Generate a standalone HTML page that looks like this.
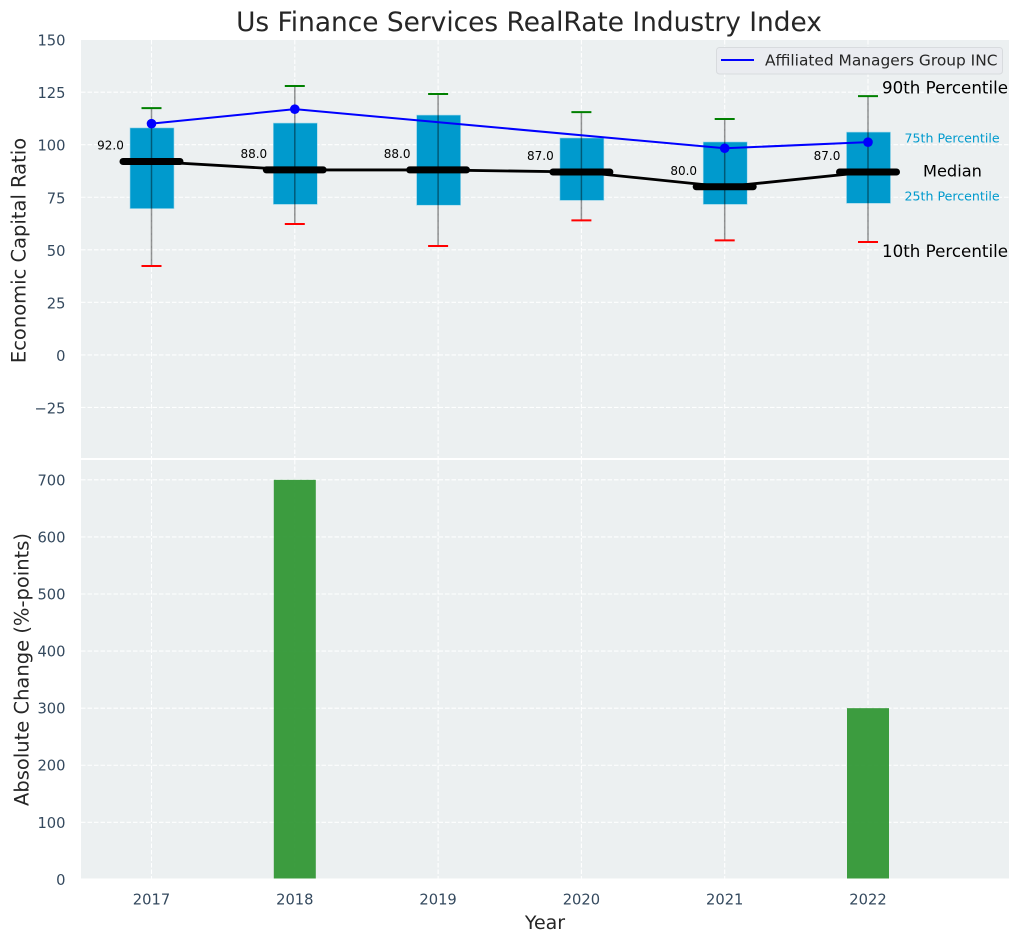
<!DOCTYPE html>
<html>
<head>
<meta charset="utf-8">
<title>Us Finance Services RealRate Industry Index</title>
<style>
html,body{margin:0;padding:0;background:#fff;}
svg{display:block;font-family:"DejaVu Sans","Liberation Sans",sans-serif;}
</style>
</head>
<body>
<svg id="chart" xmlns="http://www.w3.org/2000/svg" width="1019" height="942" viewBox="0 0 1019 942">
  <rect x="81" y="40" width="928" height="418" fill="#ecf0f1"/>
  <rect x="81" y="460" width="928" height="418.5" fill="#ecf0f1"/>
  <g id="grid"></g>
  <g id="bars"></g>
  <g id="boxes"></g>
  <g id="lines"></g>
  <g id="labels"></g>
  <text x="529" y="31" text-anchor="middle" font-size="26.4px" fill="#262626">Us Finance Services RealRate Industry Index</text>
  <text transform="translate(25.5,250.5) rotate(-90)" text-anchor="middle" font-size="19.5px" fill="#262626">Economic Capital Ratio</text>
  <text transform="translate(28.5,669.5) rotate(-90)" text-anchor="middle" font-size="19.5px" fill="#262626">Absolute Change (%-points)</text>
  <text x="545" y="929" text-anchor="middle" font-size="19px" fill="#262626">Year</text>
  <g>
    <rect x="716.5" y="47.5" width="286" height="26.5" rx="3" fill="#eaecf0" stroke="#d8dbde" stroke-width="1"/>
    <line x1="721" y1="60" x2="754" y2="60" stroke="#0000ff" stroke-width="2"/>
    <text x="765" y="65.5" font-size="15.4px" fill="#262626">Affiliated Managers Group INC</text>
  </g>
</svg>
<script>
const years = ['2017', '2018', '2019', '2020', '2021', '2022'];
const medians = [92, 88, 88, 87, 80, 87];
const medianLabels = ['92.0', '88.0', '88.0', '87.0', '80.0', '87.0'];
const q3 = [108, 110.3, 114.1, 103.2, 101.3, 106];
const q1 = [69.6, 71.6, 71.2, 73.5, 71.6, 72.1];
const p90 = [117.4, 127.9, 124.1, 115.5, 112.2, 123.1];
const p10 = [42.3, 62.3, 51.8, 64, 54.5, 53.7];
const company = [110, 116.9, null, null, 98.3, 101.2];
const changes = [0, 700, 0, 0, 0, 300];
const topTicks = [150, 125, 100, 75, 50, 25, 0, -25];
const bottomTicks = [700, 600, 500, 400, 300, 200, 100, 0];

const NS = 'http://www.w3.org/2000/svg';
const xPos = i => 151.5 + 143.3 * i;
const yTop = v => 354.9 - 2.102 * v;
const yBottom = v => 879.4 - 0.5708 * v;

function make(parent, tag, props, content) {
  const el = document.createElementNS(NS, tag);
  for (const k in props) el.setAttribute(k, props[k]);
  if (content !== undefined) el.textContent = content;
  parent.appendChild(el);
  return el;
}

const gridG = document.getElementById('grid');
const barsG = document.getElementById('bars');
const boxesG = document.getElementById('boxes');
const linesG = document.getElementById('lines');
const labelsG = document.getElementById('labels');
const gridStyle = {stroke: '#ffffff', 'stroke-width': 1.1, 'stroke-dasharray': '4.5 2', fill: 'none', opacity: 0.95};

topTicks.forEach(t => {
  const yy = yTop(t);
  if (t !== 150) {
    const g = make(gridG, 'line', Object.assign({x1: 81, x2: 1009, y1: yy, y2: yy}, gridStyle));
    
    
  }
  const l = make(labelsG, 'text', {x: 65.5, y: yy + 6, 'text-anchor': 'end', 'font-size': '14.7px', fill: '#34495e'}, String(t).replace('-', '\u2212'));
  
  
});

bottomTicks.forEach(t => {
  const yy = yBottom(t);
  if (t !== 0) {
    const g = make(gridG, 'line', Object.assign({x1: 81, x2: 1009, y1: yy, y2: yy}, gridStyle));
    
    
  }
  const l = make(labelsG, 'text', {x: 65.5, y: yy + 5.5, 'text-anchor': 'end', 'font-size': '14.7px', fill: '#34495e'}, String(t));
  
  
});

years.forEach((yr, i) => {
  const xx = xPos(i);
  const g1 = make(gridG, 'line', Object.assign({x1: xx, x2: xx, y1: 40, y2: 458}, gridStyle));
  
  
  const g2 = make(gridG, 'line', Object.assign({x1: xx, x2: xx, y1: 460, y2: 878.5}, gridStyle));
  
  
  const l = make(labelsG, 'text', {x: xx, y: 904.5, 'text-anchor': 'middle', 'font-size': '14.7px', fill: '#34495e'}, yr);
  
  

  if (changes[i] > 0) {
    const b = make(barsG, 'rect', {x: xx - 21, y: yBottom(changes[i]), width: 42, height: 878.5 - yBottom(changes[i]), fill: '#2e9632', 'fill-opacity': 0.93});
    
    
  }

  const box = make(boxesG, 'rect', {x: xx - 21.5, y: yTop(q3[i]), width: 44, height: yTop(q1[i]) - yTop(q3[i]), fill: '#009acd', stroke: '#9fd8ea', 'stroke-width': 0.6});
  
  
  const w = make(boxesG, 'line', {x1: xx, x2: xx, y1: yTop(p90[i]), y2: yTop(p10[i]), stroke: '#000', 'stroke-opacity': 0.42, 'stroke-width': 1.5});
  
  
  const hi = make(boxesG, 'line', {x1: xx - 10, x2: xx + 10, y1: yTop(p90[i]), y2: yTop(p90[i]), stroke: '#008000', 'stroke-width': 2});
  
  
  const lo = make(boxesG, 'line', {x1: xx - 10, x2: xx + 10, y1: yTop(p10[i]), y2: yTop(p10[i]), stroke: '#ff0000', 'stroke-width': 2});
  
  
});

const medianPath = make(linesG, 'polyline', {points: medians.map((v, i) => xPos(i) + ',' + yTop(v)).join(' '), fill: 'none', stroke: '#000', 'stroke-width': 2.8});



medians.forEach((v, i) => {
  const m = make(linesG, 'line', {x1: xPos(i) - 28.5, x2: xPos(i) + 28.5, y1: yTop(v), y2: yTop(v), stroke: '#000', 'stroke-width': 7, 'stroke-linecap': 'round'});
  
  
  const t = make(labelsG, 'text', {x: xPos(i) - 41, y: yTop(v) - 11.8, 'text-anchor': 'middle', 'font-size': '12px', fill: '#000'}, medianLabels[i]);
  
  
});

const companyPts = company.map((v, i) => v === null ? null : [xPos(i), yTop(v)]).filter(Boolean);
const companyLine = make(linesG, 'polyline', {points: companyPts.map(p => p.join(',')).join(' '), fill: 'none', stroke: '#0000ff', 'stroke-width': 2});


companyPts.forEach(p => {
  const c = make(linesG, 'circle', {cx: p[0], cy: p[1], r: 4.8, fill: '#0000ff'});
  
  
});

const last = years.length - 1;
const a90 = make(labelsG, 'text', {x: 882, y: yTop(p90[last]) - 2.5, 'font-size': '16.7px', fill: '#000'}, '90th Percentile');


const a75 = make(labelsG, 'text', {x: 904.5, y: yTop(q3[last]) + 10.5, 'font-size': '12.6px', fill: '#009acd'}, '75th Percentile');


const aMed = make(labelsG, 'text', {x: 923, y: yTop(medians[last]) + 4.5, 'font-size': '16.2px', fill: '#000'}, 'Median');


const a25 = make(labelsG, 'text', {x: 904.5, y: yTop(q1[last]) - 2.8, 'font-size': '12.6px', fill: '#009acd'}, '25th Percentile');


const a10 = make(labelsG, 'text', {x: 882, y: yTop(p10[last]) + 15, 'font-size': '16.7px', fill: '#000'}, '10th Percentile');


</script>
</body>
</html>
